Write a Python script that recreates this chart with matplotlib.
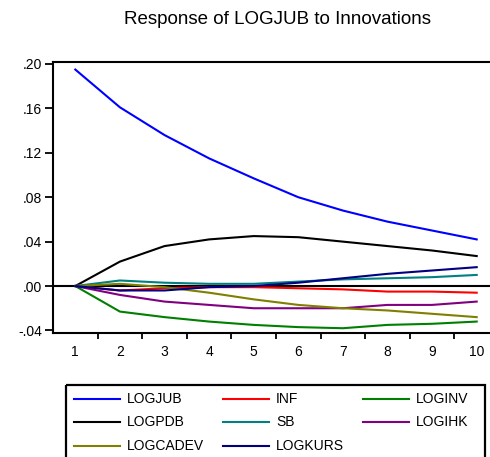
import matplotlib
matplotlib.use('Agg')
import matplotlib.pyplot as plt
from matplotlib.patches import Rectangle
import numpy as np

plt.rcParams['font.family'] = ['Liberation Sans', 'DejaVu Sans']

periods = np.arange(1, 11)

# impulse responses of LOGJUB, one array per shock
logjub = [0.195, 0.161, 0.136, 0.115, 0.097, 0.080, 0.068, 0.058, 0.050, 0.042]
inf = [0.0, -0.004, -0.002, -0.001, -0.001, -0.002, -0.003, -0.005, -0.005, -0.006]
loginv = [0.0, -0.023, -0.028, -0.032, -0.035, -0.037, -0.038, -0.035, -0.034, -0.032]
logpdb = [0.0, 0.022, 0.036, 0.042, 0.045, 0.044, 0.040, 0.036, 0.032, 0.027]
sb = [0.0, 0.005, 0.003, 0.002, 0.002, 0.004, 0.006, 0.007, 0.008, 0.010]
logihk = [0.0, -0.008, -0.014, -0.017, -0.020, -0.020, -0.020, -0.017, -0.017, -0.014]
logcadev = [0.0, 0.002, -0.001, -0.006, -0.012, -0.017, -0.020, -0.022, -0.025, -0.028]
logkurs = [0.0, -0.004, -0.004, -0.001, 0.000, 0.003, 0.007, 0.011, 0.014, 0.017]

series = [
    ('LOGJUB', logjub, '#0000ff'),
    ('INF', inf, '#ff0000'),
    ('LOGINV', loginv, '#008000'),
    ('LOGPDB', logpdb, '#000000'),
    ('SB', sb, '#008080'),
    ('LOGIHK', logihk, '#800080'),
    ('LOGCADEV', logcadev, '#808000'),
    ('LOGKURS', logkurs, '#000080'),
]

y_ticks = [-0.04, 0.0, 0.04, 0.08, 0.12, 0.16, 0.20]
y_labels = ['-.04', '.00', '.04', '.08', '.12', '.16', '.20']

W, H = 490, 457
fig = plt.figure(figsize=(W / 100, H / 100), dpi=100)
ax = fig.add_axes([53 / W, 1 - 333 / H, (499 - 53) / W, (333 - 62) / H])

ax.axhline(0, color='black', linewidth=1.5, zorder=1)
for name, vals, col in series:
    ax.plot(periods, vals, color=col, linewidth=1.5, zorder=2)

ax.set_xlim(0.5, 10.5)
ax.set_ylim(-0.0423, 0.2018)
ax.set_yticks(y_ticks)
ax.set_yticklabels(y_labels)
ax.set_xticks(periods)
ax.set_xticks(np.arange(1.5, 10.5, 1.0), minor=True)
ax.tick_params(axis='x', which='major', length=0, labelsize=10, pad=9)
ax.tick_params(axis='x', which='minor', length=4, width=1.3, direction='out')
ax.tick_params(axis='y', length=6, width=1.3, direction='out', labelsize=10, pad=2)
for s in ['left', 'top', 'bottom']:
    ax.spines[s].set_linewidth(1.5)
ax.spines['right'].set_visible(False)

fig.text(277 / W, 1 - 20 / H, 'Response of LOGJUB to Innovations',
         ha='center', va='center', fontsize=13.5)

# legend box, drawn by hand in figure pixels
lax = fig.add_axes([0, 0, 1, 1], facecolor='none')
lax.set_xlim(0, W)
lax.set_ylim(H, 0)
lax.axis('off')
lax.add_patch(Rectangle((66, 385), 485 - 66, 100, fill=False,
                        edgecolor='black', linewidth=1.6))
rows = [399, 422, 446]
cols = [74, 223, 363]
legend_order = [['LOGJUB', 'INF', 'LOGINV'],
                ['LOGPDB', 'SB', 'LOGIHK'],
                ['LOGCADEV', 'LOGKURS', None]]
lookup = {n: c for n, _, c in series}
for r, names in zip(rows, legend_order):
    for c, name in zip(cols, names):
        if name is None:
            continue
        lax.plot([c, c + 46], [r, r], color=lookup[name], linewidth=1.5)
        lax.text(c + 53, r, name, ha='left', va='center', fontsize=10)

fig.savefig('out.png', dpi=100)
